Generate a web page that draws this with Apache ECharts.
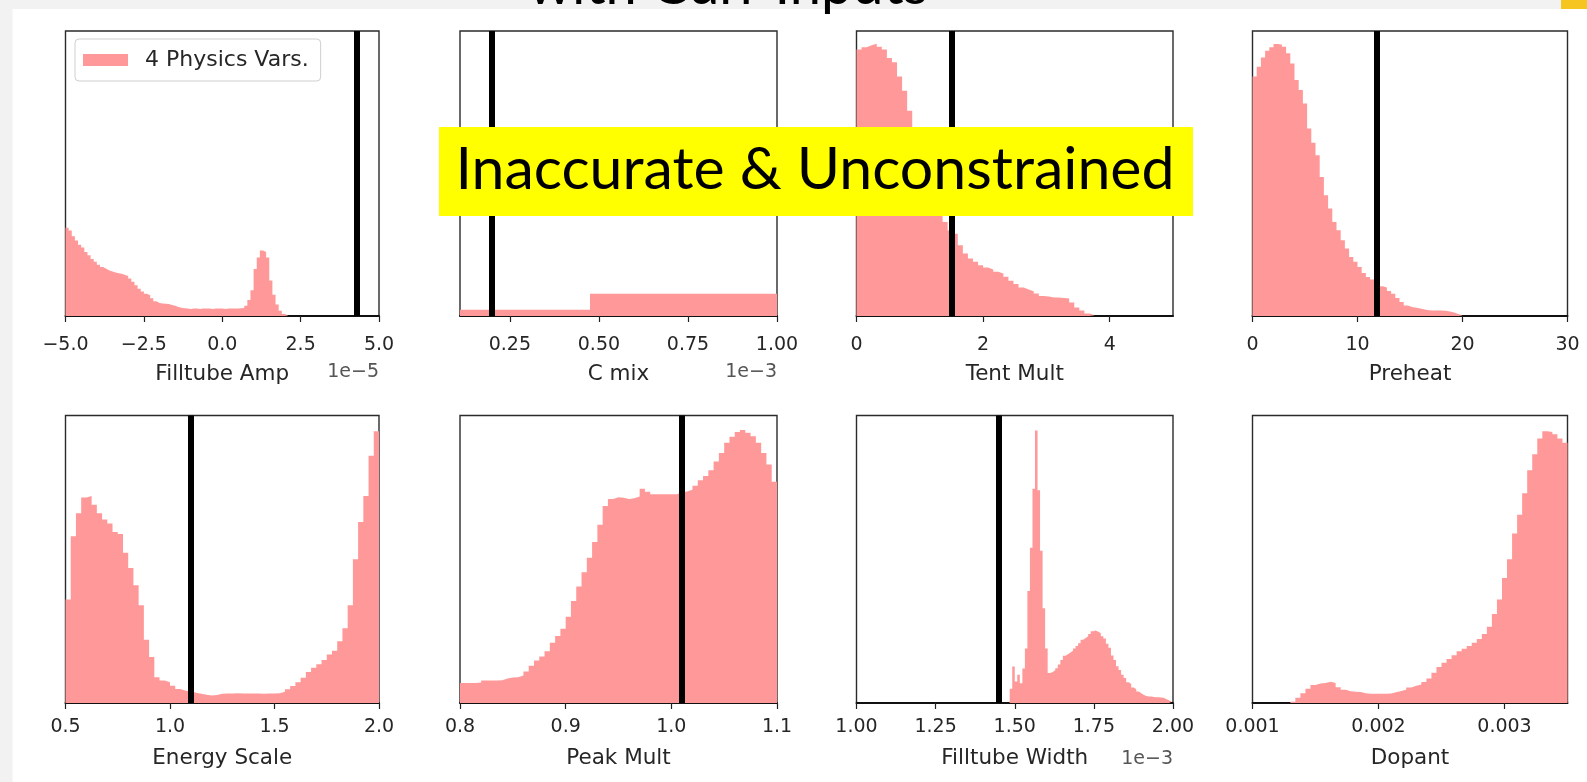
<!DOCTYPE html>
<html>
<head>
<meta charset="utf-8">
<script src="https://cdn.jsdelivr.net/npm/echarts@6/dist/echarts.min.js"></script>
<style>
  html, body { margin: 0; padding: 0; background: #ffffff; }
  #chart { width: 1587px; height: 782px; }
</style>
</head>
<body>
<div id="chart"></div>
<script>
// ---- Panel descriptions ----
const panelNames = ['Filltube Amp', 'C mix', 'Tent Mult', 'Preheat', 'Energy Scale', 'Peak Mult', 'Filltube Width', 'Dopant'];
const axisMin = [-5, 0.11, 0, 0, 0.5, 0.8, 1.0, 0.001];
const axisMax = [5, 1.0, 5, 30, 2.0, 1.1, 2.0, 0.0035];
const tickValues = [
  [-5, -2.5, 0, 2.5, 5],
  [0.25, 0.5, 0.75, 1.0],
  [0, 2, 4],
  [0, 10, 20, 30],
  [0.5, 1.0, 1.5, 2.0],
  [0.8, 0.9, 1.0, 1.1],
  [1.0, 1.25, 1.5, 1.75, 2.0],
  [0.001, 0.002, 0.003]
];
const tickDecimals = [1, 2, 0, 0, 1, 1, 2, 3];
const offsetLabels = ['1e\u22125', '1e\u22123', '', '', '', '', '1e\u22123', ''];

// true parameter value of each input (vertical reference line)
const trueValues = [4.28, 0.2, 1.51, 11.8, 1.10, 1.006, 1.45, 0.002434];

// histogram bins: left edge of first bin and bin width, per panel
const binStart = [-5.0, -0.05, 0, 0, 0.5, 0.8, 1.484, 0.0013];
const binWidth = [0.1, 0.525, 0.08, 0.4, 0.025, 0.005, 0.008, 0.00004];

// relative frequencies (percent of panel height)
const filltubeAmpCounts = [31, 30, 28, 26.5, 25, 24, 22.5, 21.3, 20, 19,
  18, 17.2, 16.6, 16, 15.6, 15.3, 15, 14.8, 14.4, 14,
  13.2, 12, 10.8, 9.6, 8.6, 7.8, 7.3, 6.2, 5.2, 4.6,
  4.4, 4.3, 4.2, 3.9, 3.6, 3.2, 2.9, 2.7,
  2.6, 2.5, 2.6, 2.6, 2.5, 2.6, 2.6, 2.6, 2.5, 2.6, 2.6, 2.6, 2.5, 2.6, 2.6, 2.6, 2.6, 2.7,
  2.8, 3.6, 5.6, 9, 16.5, 20.5, 23, 22.5, 20.5, 12.5, 7.5, 4, 1.8, 0.7, 0.2];
const cMixCounts = [2.2, 7.8];
const tentMultCounts = [93.5, 94.3, 95, 95.5, 94.5, 93.5, 90.5, 89, 84, 79,
  72, 66, 61, 55.5, 50.5, 46, 40, 33, 30, 28.9,
  24.8, 21.9, 20.2, 19, 17.8, 17, 16.3, 15.5, 14.9, 13.8,
  12.4, 11.2, 10, 9.3, 8.7, 7.9, 7, 6.8, 6.5, 6.5,
  6.3, 6.1, 4.7, 3, 1.9, 0.9, 0.3];
const preheatCounts = [84, 87.5, 90.7, 93.1, 94.3, 95.4, 95.3, 94.5, 92.2, 88.6,
  82.8, 79.3, 74.6, 65.8, 60.8, 56.4, 48.8, 42.4, 37.7, 33,
  30.1, 26.6, 23.7, 20.7, 19, 17.2, 15.1, 13.7, 12.8, 11.4,
  10.4, 10, 8.8, 7.8, 6.3, 4.9, 3.7, 3.2, 2.9, 2.6,
  2.3, 2, 1.9, 1.9, 1.9, 1.8, 1.6, 1.2, 0.7, 0.2];
const energyScaleCounts = [36, 58, 66, 71.5, 72, 69, 66, 63.8, 62.4, 59.5,
  58.8, 52.3, 47, 41, 34, 22, 16, 9, 7.8, 7.2,
  6, 4.9, 4.3, 4.1, 3.6, 3.2, 2.9, 2.6, 2.8,
  3.2, 3.3, 3.3, 3.4, 3.3, 3.3, 3.3, 3.3, 3.2, 3.3, 3.3,
  3.4, 3.9, 4.8, 5.9, 7.2, 8.8, 10.8, 12.3, 13.5, 15,
  16.9, 18.2, 21.5, 26, 34, 50, 63, 72, 86, 94.5];
const peakMultCounts = [7, 7, 7, 7.1, 7.8, 7.8, 7.8, 7.9, 8.5, 8.9,
  9, 9.6, 11, 13, 14.8, 16.2, 18, 21, 23.3, 25.8,
  30, 35.5, 40.5, 45.5, 50.5, 56, 62, 68.5, 71, 71.6,
  71.4, 71, 71.2, 71.8, 74.5, 73.5, 72.6, 72.6, 72.6, 72.6,
  72.6, 73.2, 73.6, 74.2, 75.6, 77.5, 79, 81, 84, 87,
  90.5, 92.6, 94.3, 95, 94, 92.8, 90.5, 87, 83, 77];
const filltubeWidthCounts = [5, 12.7, 7.5, 9.8, 6.9, 12, 19, 39, 54, 74.5,
  94.8, 74, 53, 33, 19, 10.4, 10.8, 11.4, 12.1, 13.4,
  15, 16.4, 17, 17.6, 18.2, 19, 19.8, 20.8, 22, 22.6,
  23.2, 24, 25, 25.2, 24.8, 24.3, 23.2, 22.4, 20.6, 19.2,
  16.5, 15, 12.8, 11.5, 9.8, 8.7, 7.2, 6.6, 5.4, 4.8,
  4, 3.4, 2.8, 2.4, 2.3, 2.3, 2.1, 2, 2, 1.9,
  1.7, 1.3, 0.9, 0.5];
const dopantCounts = [0.4, 1.8, 3.4, 5, 6.3, 6.8, 7, 7.4, 7, 5.5,
  4.6, 4.1, 3.9, 3.8, 3.4, 3.2, 3.2, 3.2, 3.2, 3.3,
  3.7, 4.2, 4.6, 5.4, 6, 6.4, 7.3, 8.5, 10.5, 12.5,
  14, 15.3, 16.6, 18, 18.9, 19.8, 21, 22.3, 24, 26.5,
  31, 36, 43.5, 50, 59, 65.5, 73, 81, 86.5, 92,
  94.5, 94.3, 93.5, 92, 90.5];
const panelCounts = [filltubeAmpCounts, cMixCounts, tentMultCounts, preheatCounts,
  energyScaleCounts, peakMultCounts, filltubeWidthCounts, dopantCounts];
const seriesName = '4 Physics Vars.';

// ---- Layout ----
const colLeft = [65.5, 460, 856.5, 1252.5];
const colWidth = [313.5, 317, 316.5, 315];
const rowTop = [31, 415.5];
const rowHeight = [285, 287.5];
const rowLabelMargin = [20, 15];
const rowNameGap = [47, 44];

const FONT = 'DejaVu Sans';
const HIST_COLOR = '#ff9999';
const TEXT_COLOR = '#262626';

function fmtTick(v, d) {
  return v.toFixed(d).replace('-', '\u2212');
}

// step outline of a histogram: one point per bin left edge, plus the closing edge
function histPoints(start, width, counts) {
  const pts = counts.map((c, k) => [start + k * width, c]);
  pts.push([start + counts.length * width, counts[counts.length - 1]]);
  return pts;
}

const grids = [], xAxes = [], yAxes = [], series = [], graphics = [];

for (let i = 0; i < 8; i++) {
  const col = i % 4, row = Math.floor(i / 4);
  const left = colLeft[col], top = rowTop[row], w = colWidth[col], h = rowHeight[row];
  grids.push({
    left: left, top: top, width: w, height: h,
    containLabel: false, outerBoundsMode: 'none',
    show: true, borderColor: '#2b2b2b', borderWidth: 1.4, backgroundColor: '#ffffff'
  });
  const d = tickDecimals[i];
  xAxes.push({
    type: 'value', gridIndex: i, min: axisMin[i], max: axisMax[i],
    name: panelNames[i], nameLocation: 'middle', nameGap: rowNameGap[row],
    nameTextStyle: { fontFamily: FONT, fontSize: 21.5, color: TEXT_COLOR },
    axisLine: { show: true, onZero: false, lineStyle: { color: '#111111', width: 1.8 } },
    axisTick: { show: true, customValues: tickValues[i], length: 6, inside: false,
      lineStyle: { color: '#222222', width: 1.2 } },
    axisLabel: { show: true, customValues: tickValues[i], margin: rowLabelMargin[row],
      fontFamily: FONT, fontSize: 19, color: TEXT_COLOR,
      formatter: (v) => fmtTick(v, d) },
    splitLine: { show: false }
  });
  yAxes.push({ type: 'value', gridIndex: i, min: 0, max: 100, show: false, splitLine: { show: false } });

  series.push({
    type: 'line', name: seriesName, xAxisIndex: i, yAxisIndex: i,
    data: histPoints(binStart[i], binWidth[i], panelCounts[i]),
    step: 'end', symbol: 'none', showSymbol: false, clip: true, silent: true,
    color: HIST_COLOR,
    itemStyle: { color: HIST_COLOR },
    lineStyle: { width: 0, color: HIST_COLOR },
    areaStyle: { color: HIST_COLOR, opacity: 1 },
    animation: false,
    markLine: {
      silent: true, symbol: ['none', 'none'], animation: false,
      label: { show: false },
      lineStyle: { color: '#000000', width: 6, type: 'solid' },
      emphasis: { disabled: true },
      data: [{ xAxis: trueValues[i] }]
    }
  });

  if (offsetLabels[i]) {
    graphics.push({
      type: 'text', z: 50,
      style: {
        text: offsetLabels[i], x: left + w, y: top + h + 56,
        align: 'right', verticalAlign: 'middle',
        font: '19px "DejaVu Sans"', fill: '#555555'
      }
    });
  }
}

// page frame, heading remnant and callout box
graphics.push(
  { type: 'rect', z: -20, silent: true, shape: { x: 0, y: 0, width: 1587, height: 9 }, style: { fill: '#f2f2f2' } },
  { type: 'rect', z: -20, silent: true, shape: { x: 0, y: 0, width: 12.5, height: 782 }, style: { fill: '#f2f2f2' } },
  { type: 'rect', z: -19, silent: true, shape: { x: 1561, y: 0, width: 26, height: 9 }, style: { fill: '#f7c520' } },
  { type: 'text', z: 60, silent: true,
    style: { text: 'with Curr Inputs', x: 728, y: -14, align: 'center', verticalAlign: 'middle',
      font: '56px Lato', fill: '#000000' } },
  { type: 'rect', z: 80, silent: true, shape: { x: 439, y: 127, width: 754, height: 89 }, style: { fill: '#ffff00' } },
  { type: 'text', z: 81, silent: true,
    style: { text: 'Inaccurate & Unconstrained', x: 815, y: 170, align: 'center', verticalAlign: 'middle',
      font: '59px Lato', fill: '#000000' } }
);

const chart = echarts.init(document.getElementById('chart'), null, { renderer: 'canvas' });
chart.setOption({
  backgroundColor: '#ffffff',
  animation: false,
  legend: {
    show: true, left: 75, top: 39, icon: 'rect', itemWidth: 45, itemHeight: 12,
    padding: [10, 12, 10, 8], backgroundColor: 'rgba(255,255,255,0.8)',
    borderColor: '#cfcfcf', borderWidth: 1, borderRadius: 4,
    selectedMode: false,
    itemStyle: { color: HIST_COLOR, borderWidth: 0 },
    textStyle: { fontFamily: FONT, fontSize: 22, color: TEXT_COLOR, padding: [0, 0, 0, 12] },
    data: [seriesName]
  },
  grid: grids,
  xAxis: xAxes,
  yAxis: yAxes,
  series: series,
  graphic: graphics
});
</script>
</body>
</html>
